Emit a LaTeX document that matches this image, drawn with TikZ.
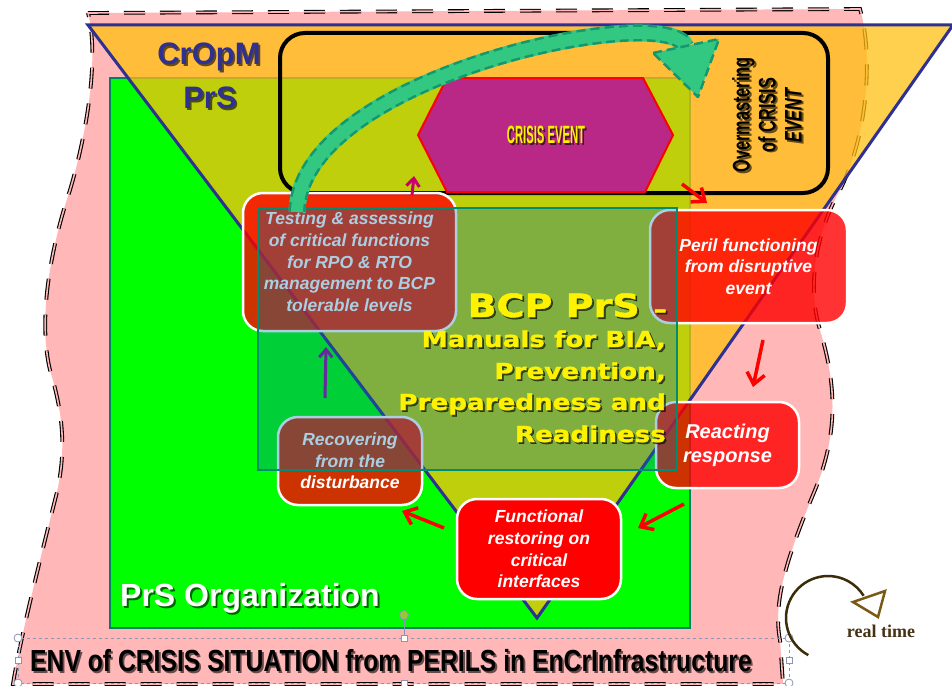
\documentclass[tikz,border=0pt]{standalone}
\usepackage{fontspec}
\setmainfont{Liberation Sans}
\newfontfamily\envfont[FakeStretch=0.81]{Liberation Sans}
\newfontfamily\overfont[FakeStretch=0.68]{Liberation Sans}
\newfontfamily\crisisfont[FakeStretch=0.45]{Liberation Sans}
\newfontfamily\bcpfont[FakeStretch=1.19, FakeBold=1.5]{DejaVu Sans}
\newfontfamily\rtfont{Liberation Serif}
\usetikzlibrary{arrows.meta}
\definecolor{pinkbg}{RGB}{255,183,183}
\definecolor{orggreen}{RGB}{0,255,0}
\definecolor{orgborder}{RGB}{0,128,100}
\definecolor{triorange}{RGB}{255,192,17}
\definecolor{navy}{RGB}{46,49,146}
\definecolor{hexfill}{RGB}{185,40,135}
\definecolor{overlayc}{RGB}{0,111,167}
\definecolor{overlayb}{RGB}{0,140,110}
\definecolor{arrlight}{RGB}{50,200,130}
\definecolor{arrdark}{RGB}{20,150,110}
\definecolor{magarrow}{RGB}{200,0,110}
\definecolor{purparrow}{RGB}{150,10,150}
\definecolor{rtarc}{RGB}{60,45,10}
\definecolor{rttri}{RGB}{120,90,20}
\definecolor{rttext}{RGB}{70,50,20}
\definecolor{selc}{RGB}{140,150,180}
\definecolor{handlegreen}{RGB}{150,200,60}
\tikzset{
  envline/.style={draw=black, double=pinkbg, double distance=1.6pt, line width=1.1pt, dash pattern=on 21pt off 15pt},
  box/.style={draw=white, line width=2.5pt, rounded corners=20pt, fill=red, fill opacity=0.8, text opacity=1, text=white, inner sep=0pt, align=center, font=\bfseries\itshape\fontsize{17.5}{21.7}\selectfont},
  solidbox/.style={box, fill opacity=1},
  redarrow/.style={draw=red, line width=3.5pt, -{Straight Barb[length=11pt, width=18pt]}},
  smallarrow/.style={line width=3pt, -{Straight Barb[length=8pt, width=13pt]}},
  bcptext/.style={text=yellow, inner sep=0pt, anchor=base east},
  shadowtext/.style={text=black, text opacity=0.6},
  handle/.style={draw=selc, fill=white, line width=0.8pt},
}
% shadowed text: name, options, position, text
\newcommand\shtext[4]{%
  \node[shift={(1.8,1.8)}, #2, shadowtext] (#1s) at #3 {#4};
  \node[#2] (#1) at #3 {#4};}
\begin{document}
\begin{tikzpicture}[x=1pt,y=-1pt]
\useasboundingbox (0,0) rectangle (952,685);
\clip (0,0) rectangle (952,685);
% environment shape
\fill[pinkbg] (88,13) -- (860,9)
  .. controls (872,50) and (870,130) .. (840,190)
  .. controls (820,225) and (805,280) .. (820,330)
  .. controls (835,380) and (840,430) .. (815,490)
  .. controls (790,550) and (772,600) .. (780,640)
  -- (783,684) -- (13,684)
  .. controls (20,640) and (40,560) .. (55,500)
  .. controls (68,450) and (62,410) .. (50,370)
  .. controls (38,320) and (50,250) .. (70,190)
  .. controls (85,140) and (100,60) .. (88,13) -- cycle;
\draw[envline] (88,13) -- (860,9)
  .. controls (872,50) and (870,130) .. (840,190)
  .. controls (820,225) and (805,280) .. (820,330)
  .. controls (835,380) and (840,430) .. (815,490)
  .. controls (790,550) and (772,600) .. (780,640)
  -- (783,684) -- (13,684)
  .. controls (20,640) and (40,560) .. (55,500)
  .. controls (68,450) and (62,410) .. (50,370)
  .. controls (38,320) and (50,250) .. (70,190)
  .. controls (85,140) and (100,60) .. (88,13) -- cycle;
% organization rectangle
\node[draw=orgborder, line width=1.5pt, fill=orggreen, minimum width=580, minimum height=550, inner sep=0pt] (org) at (400,353) {};
% inverted triangle
\draw[draw=navy, line width=3pt, fill=triorange, fill opacity=0.75] (88,25) -- (953,25) -- (537,618) -- cycle;
% black rounded box
\node[draw=black, line width=4pt, rounded corners=25pt, minimum width=548, minimum height=160, inner sep=0pt] (cropbox) at (554,113) {};
% hexagon
\draw[draw=red, line width=2pt, fill=hexfill] (418,135) -- (447,78) -- (643,78) -- (673,135) -- (645,192) -- (447,192) -- cycle;
\shtext{crisis}{text=yellow, font=\crisisfont\bfseries\fontsize{25}{25}\selectfont}{(546,135)}{CRISIS EVENT}
\shtext{over}{rotate=90, align=center, font=\overfont\bfseries\fontsize{24}{26}\selectfont}{(767,115)}{Overmastering\\of CRISIS\\\textit{EVENT}}
% boxes
\node[box, minimum width=213, minimum height=138] (testing) at (349.5,262) {Testing \& assessing\\of critical functions\\for RPO \& RTO\\management to BCP\\tolerable levels};
\node[box, minimum width=197, minimum height=113] (peril) at (748.5,266.5) {Peril functioning\\from disruptive\\event};
\node[box, minimum width=143, minimum height=86, font=\bfseries\itshape\fontsize{20}{24}\selectfont] (react) at (727.5,445) {Reacting\\response};
\node[box, minimum width=144, minimum height=88] (recover) at (350,461) {Recovering\\from the\\disturbance};
\node[solidbox, minimum width=164, minimum height=100] (func) at (539,549) {Functional\\restoring on\\critical\\interfaces};
% arrows under the overlay
\coordinate (a5s) at (325,398); \coordinate (a5e) at (326,347);
\draw[smallarrow, draw=purparrow] (a5s) -- (a5e);
\coordinate (a6s) at (412,195); \coordinate (a6e) at (414,176);
\draw[smallarrow, draw=magarrow] (a6s) -- (a6e);
% BCP overlay
\node[draw=overlayb, line width=2pt, fill=overlayc, fill opacity=0.33, draw opacity=1, minimum width=419, minimum height=262, inner sep=0pt] (bcparea) at (467.5,339) {};
\shtext{bcp1}{bcptext, font=\bcpfont\bfseries\fontsize{32}{32}\selectfont}{(640,317)}{BCP PrS}
\shtext{bcpdash}{bcptext, font=\bcpfont\bfseries\fontsize{22}{22}\selectfont}{(667,317)}{–}
\shtext{bcp2}{bcptext, font=\bcpfont\bfseries\fontsize{22}{22}\selectfont}{(666,347)}{Manuals for BIA,}
\shtext{bcp3}{bcptext, font=\bcpfont\bfseries\fontsize{22}{22}\selectfont}{(666,379)}{Prevention,}
\shtext{bcp4}{bcptext, font=\bcpfont\bfseries\fontsize{22}{22}\selectfont}{(666,410)}{Preparedness and}
\shtext{bcp5}{bcptext, font=\bcpfont\bfseries\fontsize{22}{22}\selectfont}{(666,442)}{Readiness}
% green curved arrow
\coordinate (gcs) at (297,212); \coordinate (gce) at (686,47);
\draw[line width=17pt, draw=arrlight] (gcs) .. controls (300,75) and (670,0) .. (gce);
\draw[line width=17pt, draw=arrdark, dash pattern=on 9pt off 5pt] (gcs) .. controls (300,75) and (670,0) .. (gce);
\draw[line width=12pt, draw=arrlight] (gcs) .. controls (300,75) and (670,0) .. (gce);
\draw[fill=arrlight, draw=arrdark, line width=2.5pt, dash pattern=on 9pt off 5pt, line join=round] (653,53) -- (719,39) -- (698,97) -- cycle;
% red arrows
\coordinate (a1s) at (682,184); \coordinate (a1e) at (707,203);
\draw[redarrow] (a1s) -- (a1e);
\coordinate (a2s) at (763,340); \coordinate (a2e) at (753,387);
\draw[redarrow] (a2s) -- (a2e);
\coordinate (a3s) at (684,504); \coordinate (a3e) at (638,528);
\draw[redarrow] (a3s) -- (a3e);
\coordinate (a4s) at (444,528); \coordinate (a4e) at (402,511);
\draw[redarrow] (a4s) -- (a4e);
% labels
\shtext{cropm}{text=navy, font=\bfseries\fontsize{31}{31}\selectfont}{(209,57)}{CrOpM}
\shtext{prs}{text=navy, font=\bfseries\fontsize{31}{31}\selectfont}{(210,98)}{PrS}
\shtext{orglabel}{anchor=west, text=white, font=\bfseries\fontsize{32}{32}\selectfont, inner sep=0pt}{(120,598)}{PrS Organization}
% selection frame
\draw[selc, line width=0.8pt, dashed] (18,638) rectangle (789,683);
\coordinate (rot) at (404,615);
\draw[selc, line width=0.8pt] (404,638) -- (rot);
\shtext{env}{anchor=west, font=\envfont\bfseries\fontsize{30.5}{30.5}\selectfont, inner sep=0pt}{(30,661)}{ENV of CRISIS SITUATION from PERILS in EnCrInfrastructure}
\foreach \p in {(18,638),(789,638),(18,683),(789,683)} \draw[handle] \p circle[radius=4];
\foreach \p in {(404,638),(404,683),(18,660),(789,660)} \draw[handle] \p ++(-3,-3) rectangle ++(6,6);
\draw[draw=selc, fill=handlegreen, line width=0.8pt] (rot) circle[radius=4.5];
% real time
\draw[rtarc, line width=2.5pt] (808.3,655.1) arc[start angle=118, end angle=328, radius=42];
\draw[rttri, line width=2.5pt, line join=miter] (853,602) -- (885,591) -- (878,617) -- cycle;
\node[text=rttext, font=\rtfont\bfseries\fontsize{18}{18}\selectfont] (rt) at (881,631) {real time};
\end{tikzpicture}
\end{document}
